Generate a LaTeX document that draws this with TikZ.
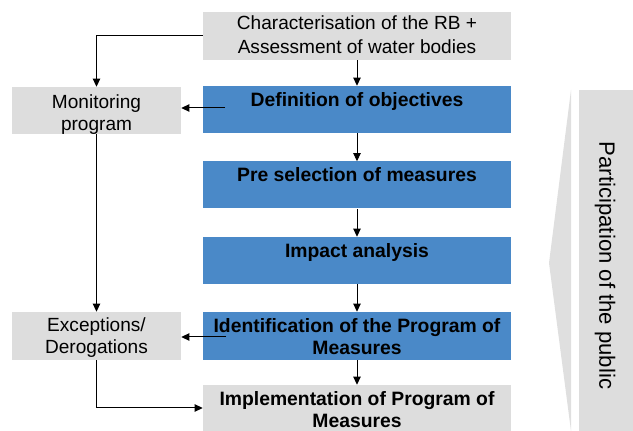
\documentclass[tikz,border=0pt]{standalone}
\usepackage{fontspec}
\setmainfont{Liberation Sans}
\usetikzlibrary{arrows.meta}
\definecolor{boxblue}{RGB}{74,137,200}
\definecolor{boxgray}{RGB}{221,221,221}
\begin{document}
\begin{tikzpicture}[x=0.75pt,y=-0.75pt,
  gbox/.style={fill=boxgray, inner sep=0pt, minimum width=231pt, minimum height=35.25pt},
  bbox/.style={fill=boxblue, inner sep=0pt, minimum width=231pt, minimum height=35.25pt},
  sbox/.style={fill=boxgray, inner sep=0pt, minimum width=126.75pt, minimum height=35.25pt},
  txt/.style={anchor=north, inner sep=0pt, align=center, font=\fontsize{14.3}{16.3}\selectfont},
  ttxt/.style={anchor=north, inner sep=0pt, align=center, font=\fontsize{14.3}{18}\selectfont},
  btxt/.style={anchor=north, inner sep=0pt, align=center, font=\fontsize{14.5}{16.5}\selectfont\bfseries},
  arr/.style={draw=black, line width=0.75pt, -{Triangle[length=6pt,width=5.5pt]}},
  ln/.style={draw=black, line width=0.75pt}
]
\useasboundingbox (0,0) rectangle (633,431);

% side bar
\fill[boxgray] (579,90) rectangle (633,431);
\fill[boxgray!95!white] (571,90) -- (549,263) -- (571,431) -- cycle;
\node[rotate=-90, inner sep=0pt, font=\fontsize{16.6}{20}\selectfont] (pub) at (605,265.5) {Participation of the public};

% boxes
\node[gbox, minimum height=36pt] (char) at (357,36) {};
\node[bbox] (def) at (357,109.5) {};
\node[bbox] (pre) at (357,185) {};
\node[bbox] (imp) at (357,260.5) {};
\node[bbox, minimum height=36pt] (ident) at (357,336) {};
\node[gbox, minimum height=34.5pt] (impl) at (357,408) {};
\node[sbox] (mon) at (96.5,110.5) {};
\node[sbox, minimum height=36pt] (exc) at (96.5,336) {};

% texts
\node[ttxt] (chart) at (357,12.5) {\strut Characterisation of the RB +\\Assessment of water bodies};
\node[btxt] (deft) at (357,90.6) {\strut Definition of objectives};
\node[btxt] (pret) at (357,166.1) {\strut Pre selection of measures};
\node[btxt] (impt) at (357,241.6) {\strut Impact analysis};
\node[btxt] (identt) at (357,316.6) {\strut Identification of the Program of\\Measures};
\node[btxt] (implt) at (357,389.6) {\strut Implementation of Program of\\Measures};
\node[txt] (mont) at (96.5,92.8) {\strut Monitoring\\program};
\node[txt] (exct) at (96.5,316.5) {\strut Exceptions/\\Derogations};

% connectors
\draw[arr] (char.west) -| (mon.north);
\draw[arr] (char.south) -- (def.north);
\coordinate (dl) at (225,108);
\draw[arr] (dl) -- (dl -| mon.east);
\draw[arr] (def.south) -- (pre.north);
\draw[arr] (pre.south) -- (imp.north);
\draw[arr] (imp.south) -- (ident.north);
\draw[arr] (ident.south) -- (impl.north);
\coordinate (il) at (226,337);
\draw[arr] (il) -- (il -| exc.east);
\draw[arr] (mon.south) -- (exc.north);
\draw[arr] (exc.south) |- (impl.west);
\end{tikzpicture}
\end{document}
